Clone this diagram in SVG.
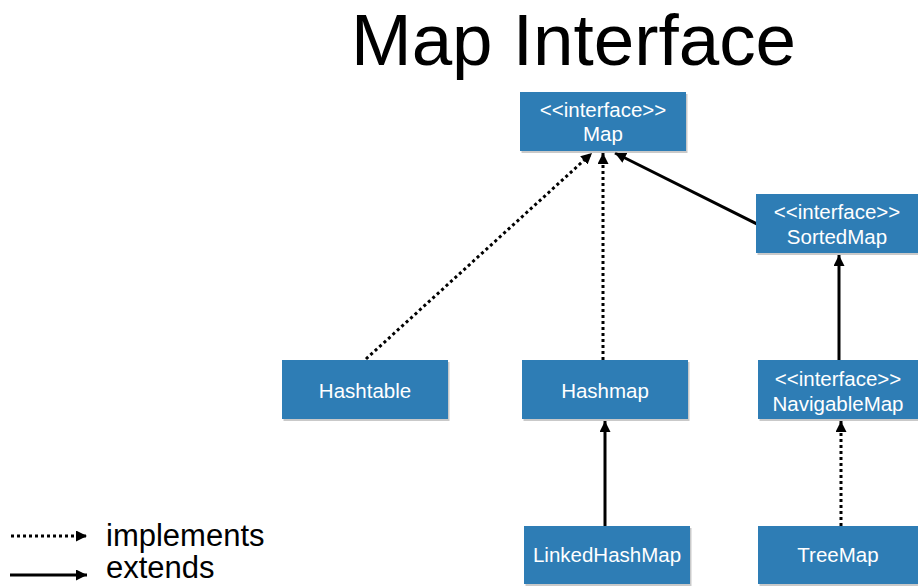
<svg xmlns="http://www.w3.org/2000/svg" width="918" height="586" viewBox="0 0 918 586">
  <style>
    .box { fill: #2e7db5; }
    .shadow { fill: #9c9c9c; opacity: 0.55; }
    .lbl { font-family: "Liberation Sans", Arial, sans-serif; font-size: 20.5px; fill: #ffffff; text-anchor: middle; }
    .title { font-family: "Liberation Sans", Arial, sans-serif; font-size: 73px; fill: #000000; }
    .legend { font-family: "Liberation Sans", Arial, sans-serif; font-size: 31px; fill: #000000; }
    .solid { stroke: #000; stroke-width: 3; fill: none; }
    .dotted { stroke: #000; stroke-width: 3; stroke-dasharray: 3 3; fill: none; }
  </style>
  <defs>
    <marker id="head" viewBox="0 0 10 10" refX="10" refY="5" markerWidth="11" markerHeight="11" markerUnits="userSpaceOnUse" orient="auto">
      <path d="M0,0 L10,5 L0,10 Z" fill="#000"/>
    </marker>
  </defs>

  <rect width="918" height="586" fill="#ffffff"/>

  <text class="title" x="351" y="65" textLength="445" lengthAdjust="spacingAndGlyphs">Map Interface</text>

  <g id="connectors">
    <!-- implements -->
    <line class="dotted" x1="366" y1="359" x2="592" y2="153" marker-end="url(#head)"/>
    <line class="dotted" x1="603" y1="360" x2="603" y2="153" marker-end="url(#head)"/>
    <line class="dotted" x1="841" y1="526" x2="841" y2="421" marker-end="url(#head)"/>
    <!-- extends -->
    <line class="solid" x1="765" y1="228" x2="615" y2="153" marker-end="url(#head)"/>
    <line class="solid" x1="839" y1="360" x2="839" y2="255" marker-end="url(#head)"/>
    <line class="solid" x1="605" y1="526" x2="605" y2="421" marker-end="url(#head)"/>
  </g>

  <g id="map">
    <rect class="shadow" x="521.5" y="94" width="166" height="59"/>
    <rect class="box" x="520" y="92" width="166" height="59"/>
    <text class="lbl" x="603" y="117">&lt;&lt;interface&gt;&gt;</text>
    <text class="lbl" x="603" y="141">Map</text>
  </g>

  <g id="sortedmap">
    <rect class="shadow" x="757.5" y="196" width="162" height="59"/>
    <rect class="box" x="756" y="194" width="162" height="59"/>
    <text class="lbl" x="837" y="219">&lt;&lt;interface&gt;&gt;</text>
    <text class="lbl" x="837" y="244">SortedMap</text>
  </g>

  <g id="hashtable">
    <rect class="shadow" x="283.5" y="362" width="166" height="59"/>
    <rect class="box" x="282" y="360" width="166" height="59"/>
    <text class="lbl" x="365" y="398">Hashtable</text>
  </g>

  <g id="hashmap">
    <rect class="shadow" x="523.5" y="362" width="166" height="59"/>
    <rect class="box" x="522" y="360" width="166" height="59"/>
    <text class="lbl" x="605" y="398">Hashmap</text>
  </g>

  <g id="navigablemap">
    <rect class="shadow" x="759.5" y="362" width="162" height="59"/>
    <rect class="box" x="758" y="360" width="162" height="59"/>
    <text class="lbl" x="838" y="386">&lt;&lt;interface&gt;&gt;</text>
    <text class="lbl" x="838" y="411">NavigableMap</text>
  </g>

  <g id="linkedhashmap">
    <rect class="shadow" x="525.5" y="528" width="166" height="58"/>
    <rect class="box" x="524" y="526" width="166" height="58"/>
    <text class="lbl" x="607" y="562">LinkedHashMap</text>
  </g>

  <g id="treemap">
    <rect class="shadow" x="759.5" y="528" width="162" height="58"/>
    <rect class="box" x="758" y="526" width="162" height="58"/>
    <text class="lbl" x="838" y="562">TreeMap</text>
  </g>

  <g id="legend">
    <line class="dotted" x1="11" y1="536" x2="87" y2="536" marker-end="url(#head)"/>
    <text class="legend" x="106" y="546">implements</text>
    <line class="solid" x1="10" y1="575" x2="87" y2="575" marker-end="url(#head)"/>
    <text class="legend" x="106" y="578">extends</text>
  </g>
</svg>
